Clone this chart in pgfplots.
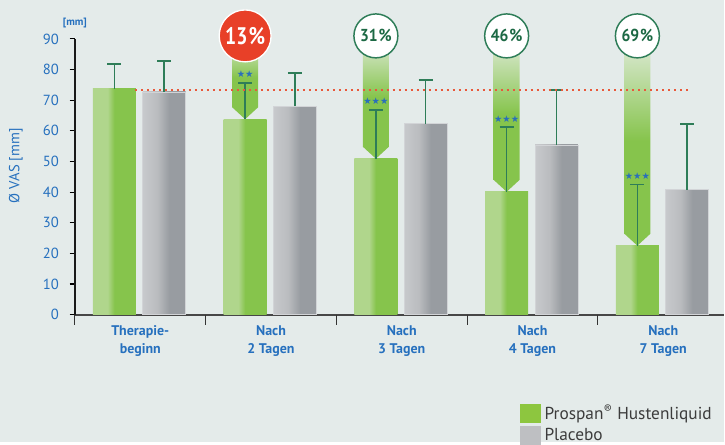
\documentclass[border=0pt]{standalone}
\usepackage{fontspec}
\setmainfont{PT Sans}
\newfontfamily\dejavu{DejaVu Sans}
\usepackage{graphicx}
\usepackage{pgfplots}
\pgfplotsset{compat=1.18}

\definecolor{bg}{RGB}{228,235,234}
\definecolor{lblblue}{RGB}{38,112,190}
\definecolor{glight}{RGB}{176,214,140}
\definecolor{gmain}{RGB}{134,196,76}
\definecolor{gyl}{RGB}{199,201,204}
\definecolor{gym}{RGB}{186,188,191}
\definecolor{gyd}{RGB}{152,156,161}
\definecolor{errc}{RGB}{46,125,88}
\definecolor{dred}{RGB}{233,88,58}
\definecolor{pctred}{RGB}{232,64,40}
\definecolor{pctgreen}{RGB}{28,105,68}
\definecolor{legG}{RGB}{141,198,63}
\definecolor{legY}{RGB}{190,191,194}
\definecolor{legtxt}{RGB}{60,60,60}
\definecolor{bandtop}{RGB}{226,236,222}
\definecolor{starblue}{RGB}{42,111,186}

\pgfdeclarehorizontalshading{greenbar}{100bp}{color(0bp)=(glight); color(25bp)=(glight); color(42bp)=(glight); color(50bp)=(gmain); color(75bp)=(gmain); color(100bp)=(gmain)}
\pgfdeclarehorizontalshading{graybar}{100bp}{color(0bp)=(gyl); color(25bp)=(gyl); color(42bp)=(gym); color(56bp)=(gyd); color(75bp)=(gyd); color(100bp)=(gyd)}

\pgfplotsset{
  gbar/.style={ybar, bar width=0.328, bar shift=-0.198, draw=none, shading=greenbar,
    legend image code/.code={\path[shade=false, draw=none, fill=legG] (0pt,-7.1pt) rectangle (15.75pt,7.1pt);}},
  ybarp/.style={ybar, bar width=0.328, bar shift=0.183, draw={rgb,255:red,210;green,212;blue,215}, line width=0.5pt, shading=graybar,
    legend image code/.code={\path[shade=false, draw=none, fill=legY] (0pt,-7.1pt) rectangle (15.75pt,7.1pt);}},
  errp/.style={forget plot, draw=none, mark=none,
    error bars/.cd, y dir=plus, y explicit,
    error bar style={draw=errc, line width=1.1pt},
    error mark options={rotate=90, draw=errc, line width=1.1pt, mark size=5.25pt}},
  band/.style={forget plot, draw=none, top color=bandtop, bottom color=gmain, middle color=gmain},
}
\tikzset{
  stars/.style={anchor=south, inner sep=0pt, text=starblue, font=\dejavu\fontsize{7}{7}\selectfont},
  gcirc/.style={circle, fill=white, draw=errc, line width=1.1pt, minimum size=33pt, inner sep=0pt, text=pctgreen, font=\fontsize{13}{13}\selectfont\bfseries},
  sep/.style={black!80, line width=0.8pt},
}

\begin{document}
\begin{tikzpicture}
\fill[bg] (-56.25pt,-96pt) rectangle (487.5pt,236.25pt);
\begin{axis}[
  at={(0pt,0pt)}, anchor=south west,
  scale only axis, width=487.5pt, height=207pt,
  xmin=-0.5, xmax=4.465, ymin=0, ymax=90,
  clip=false,
  axis x line*=bottom, axis y line*=left,
  x axis line style={draw=black!72, line width=1.4pt, -},
  y axis line style={draw=black!90, line width=1.1pt, -},
  ytick={0,10,...,90},
  tick align=outside, major tick length=4pt,
  major y tick style={draw=black, line width=0.8pt},
  major x tick style={draw=none},
  xtick={0,1,2,3,4},
  xticklabels={{Therapie-\\beginn},{Nach\\2 Tagen},{Nach\\3 Tagen},{Nach\\4 Tagen},{Nach\\7 Tagen}},
  xticklabel style={align=center, font=\fontsize{10.5}{13.5}\selectfont\bfseries, text=lblblue, yshift=-1pt},
  yticklabel style={font=\fontsize{11}{13}\selectfont, text=lblblue, xshift=-4.5pt},
  /pgf/number format/assume math mode=true,
  ylabel={Ø VAS [mm]},
  every axis y label/.style={at={(axis description cs:-0.0908,0.54)}, rotate=90, anchor=center, font=\fontsize{11}{13}\selectfont, text=lblblue},
  legend style={at={(axis description cs:0.6846,-0.3225)}, anchor=north west, draw=none, fill=none, inner sep=0pt, row sep=2.2pt, font=\fontsize{13}{13}\selectfont, text=legtxt, nodes={inner xsep=3pt, inner ysep=0pt}},
  legend cell align=left,
]
% arrow bands
\addplot[band] coordinates {(0.7028,91) (0.7028,67.7) (0.802,63.8) (0.9012,67.7) (0.9012,91)};
\addplot[band] coordinates {(1.7028,91) (1.7028,54.8) (1.802,50.9) (1.9012,54.8) (1.9012,91)};
\addplot[band] coordinates {(2.7028,91) (2.7028,44.0) (2.802,40.1) (2.9012,44.0) (2.9012,91)};
\addplot[band] coordinates {(3.7028,91) (3.7028,26.4) (3.802,22.5) (3.9012,26.4) (3.9012,91)};

% bars: Prospan (green) and Placebo (gray)
\addplot[gbar] coordinates {(0,73.7)};
\addlegendentry{Prospan\textsuperscript{®} Hustenliquid}
\addplot[ybarp] coordinates {(0,72.7)};
\addlegendentry{Placebo}
\addplot[gbar, forget plot] coordinates {(1,63.8)};
\addplot[gbar, forget plot] coordinates {(2,50.9)};
\addplot[gbar, forget plot] coordinates {(3,40.1)};
\addplot[gbar, forget plot] coordinates {(4,22.5)};
\addplot[ybarp, forget plot] coordinates {(1,68.1)};
\addplot[ybarp, forget plot] coordinates {(2,62.3)};
\addplot[ybarp, forget plot] coordinates {(3,55.4)};
\addplot[ybarp, forget plot] coordinates {(4,40.8)};

% error bars (upper only)
\addplot[errp] coordinates {(-0.198,73.7) +- (0,8.1) (0.802,63.8) +- (0,11.8) (1.802,50.9) +- (0,15.9) (2.802,40.1) +- (0,21.2) (3.802,22.5) +- (0,20.0)};
\addplot[errp] coordinates {(0.183,72.7) +- (0,10.1) (1.183,68.1) +- (0,10.8) (2.183,62.3) +- (0,14.3) (3.183,55.4) +- (0,18.0) (4.183,40.8) +- (0,21.5)};

% reference line
\addplot[forget plot, draw=dred, line width=1.5pt, dash pattern=on 1.5pt off 3pt] coordinates {(-0.04,73.4) (4.2,73.4)};

% category separators
\draw[sep] (axis cs:-0.5,0) -- ([yshift=-8pt]axis cs:-0.5,0);
\draw[sep] (axis cs:0.5,0) -- ([yshift=-8pt]axis cs:0.5,0);
\draw[sep] (axis cs:1.5,0) -- ([yshift=-8pt]axis cs:1.5,0);
\draw[sep] (axis cs:2.5,0) -- ([yshift=-8pt]axis cs:2.5,0);
\draw[sep] (axis cs:3.5,0) -- ([yshift=-8pt]axis cs:3.5,0);

% stars
\node[stars] at (axis cs:0.802,77.2) {★★};
\node[stars] at (axis cs:1.802,68.4) {★★★};
\node[stars] at (axis cs:2.802,62.7) {★★★};
\node[stars] at (axis cs:3.802,43.9) {★★★};

% percent circles
\node[circle, fill=pctred, draw=white, line width=1pt, minimum size=39pt, inner sep=0pt, text=white, font=\fontsize{18}{18}\selectfont\bfseries] at (axis cs:0.802,91) {\scalebox{0.82}[1]{13\kern1pt\%}};
\node[gcirc] at (axis cs:1.802,91) {\scalebox{0.9}[1]{31\kern0.8pt\%}};
\node[gcirc] at (axis cs:2.802,91) {\scalebox{0.9}[1]{46\kern0.8pt\%}};
\node[gcirc] at (axis cs:3.802,91) {\scalebox{0.9}[1]{69\kern0.8pt\%}};

% unit label
\node[font=\fontsize{8}{8}\selectfont\bfseries, text=lblblue] at (rel axis cs:0,1) [yshift=12pt] {[mm]};
\end{axis}
\end{tikzpicture}
\end{document}
